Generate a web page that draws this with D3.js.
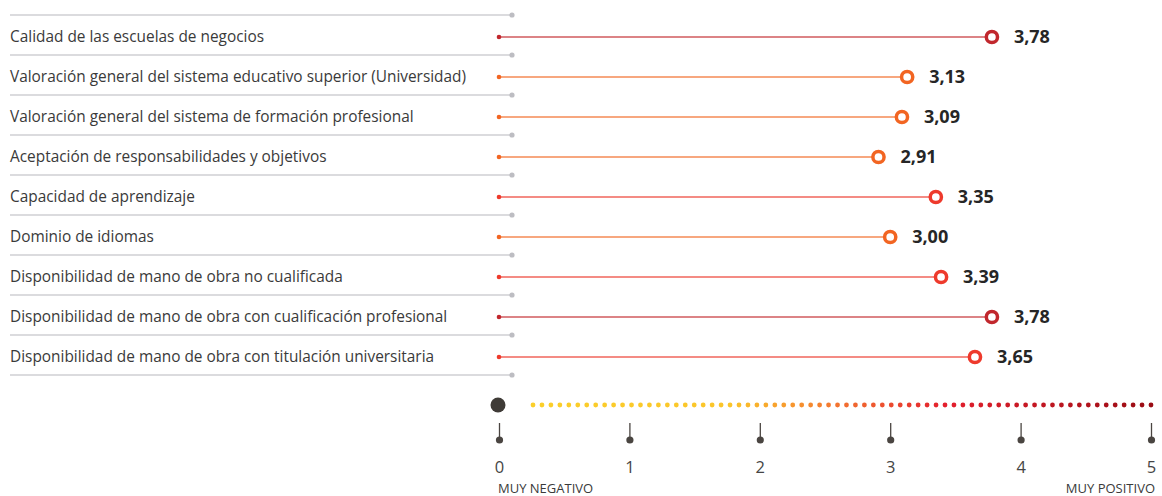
<!DOCTYPE html>
<html><head><meta charset="utf-8">
<script src="https://cdn.jsdelivr.net/npm/d3@7"></script>
<style>
body{margin:0;background:#fff;}
svg{display:block;font-family:"Open Sans","Noto Sans",sans-serif;}
</style></head>
<body>
<svg id="chart" width="1162" height="496"></svg>
<script>
const categories = [
  "Calidad de las escuelas de negocios",
  "Valoración general del sistema educativo superior (Universidad)",
  "Valoración general del sistema de formación profesional",
  "Aceptación de responsabilidades y objetivos",
  "Capacidad de aprendizaje",
  "Dominio de idiomas",
  "Disponibilidad de mano de obra no cualificada",
  "Disponibilidad de mano de obra con cualificación profesional",
  "Disponibilidad de mano de obra con titulación universitaria"
];
const values = [3.78, 3.13, 3.09, 2.91, 3.35, 3.00, 3.39, 3.78, 3.65];
const tickValues = [0, 1, 2, 3, 4, 5];
const endLabels = ["MUY NEGATIVO", "MUY POSITIVO"];

const svg = d3.select("#chart");
const x = d3.scaleLinear().domain([0, 5]).range([499, 1151]);
const y = d3.scaleBand().domain(categories).range([15, 375]);
const fmt = v => d3.format(".2f")(v).replace(".", ",");

const markColor = d3.scaleThreshold().domain([3.2, 3.7]).range(["#f26522", "#ee3a2c", "#c1272d"]);
const lineColor = d3.scaleThreshold().domain([3.2, 3.7]).range(["#f58a55", "#f1655b", "#d05a5e"]);

// separators
const seps = d3.range(categories.length + 1).map(i => i === categories.length ? y.range()[1] : y(categories[i]));
svg.selectAll(".sep").data(seps).join("line")
  .attr("x1", 10).attr("x2", 512).attr("y1", d => d).attr("y2", d => d)
  .attr("stroke", "#cfcfd3").attr("stroke-width", 1.3);
svg.selectAll(".sepdot").data(seps).join("circle")
  .attr("cx", 512).attr("cy", d => d).attr("r", 2.6).attr("fill", "#bdbdc2");

const rows = svg.selectAll(".row").data(categories).join("g")
  .attr("transform", d => `translate(0,${y(d) + y.bandwidth() / 2 + 2})`);

rows.append("text").attr("x", 10).attr("y", 0).attr("dy", "0.35em")
  .attr("font-size", 15.4).attr("fill", "#3a3a3a").text(d => d);

rows.append("line")
  .attr("x1", x(0)).attr("x2", (d, i) => x(values[i]))
  .attr("stroke", (d, i) => lineColor(values[i])).attr("stroke-width", 1.6);
rows.append("circle").attr("cx", x(0)).attr("r", 2.3)
  .attr("fill", (d, i) => markColor(values[i]));
rows.append("circle").attr("cx", (d, i) => x(values[i])).attr("r", 5.6)
  .attr("fill", "#fff").attr("stroke", (d, i) => markColor(values[i])).attr("stroke-width", 3.5);
rows.append("text").attr("x", (d, i) => x(values[i]) + 22).attr("dy", "0.36em")
  .attr("font-size", 18).attr("font-weight", "bold").attr("fill", "#262626")
  .text((d, i) => fmt(values[i]));

// legend gradient dots
const dotStart = 533;
const dotN = 70;
const dotStep = (x(5) - dotStart) / (dotN - 1);
const gradient = d3.scaleLinear()
  .domain([dotStart, 730, 830, 945, x(5)])
  .range(["#fbcf2a", "#fbc52a", "#f47a30", "#e4202e", "#9a0c14"]);
svg.selectAll(".gdot").data(d3.range(dotN)).join("circle")
  .attr("cx", i => dotStart + i * dotStep).attr("cy", 405).attr("r", 2.4)
  .attr("fill", i => gradient(dotStart + i * dotStep));
svg.append("circle").attr("cx", x(0) - 1).attr("cy", 405).attr("r", 7.5).attr("fill", "#3f3b37");

// axis
const axisG = svg.append("g").attr("transform", "translate(0,423)");
const axis = d3.axisBottom(x).tickValues(tickValues).tickSize(0).tickFormat(d3.format("d"));
axisG.call(axis);
axisG.select(".domain").remove();
axisG.selectAll(".tick line").remove();
axisG.selectAll(".tick").append("line").attr("y1", 0).attr("y2", 15).attr("stroke", "#4a4541").attr("stroke-width", 1.3);
axisG.selectAll(".tick").append("circle").attr("cy", 17).attr("r", 3.6).attr("fill", "#4a4541");
axisG.selectAll(".tick text").attr("y", 50).attr("dy", "0").attr("font-size", 16.5)
  .attr("fill", "#454545").attr("font-family", "'Open Sans','Noto Sans',sans-serif");

svg.selectAll(".endlab").data(endLabels).join("text")
  .attr("x", (d, i) => i === 0 ? x(0) - 1 : x(5) + 4)
  .attr("y", 493).attr("text-anchor", (d, i) => i === 0 ? "start" : "end")
  .attr("font-size", 13).attr("fill", "#3a3a3a").text(d => d);
</script>
</body></html>
